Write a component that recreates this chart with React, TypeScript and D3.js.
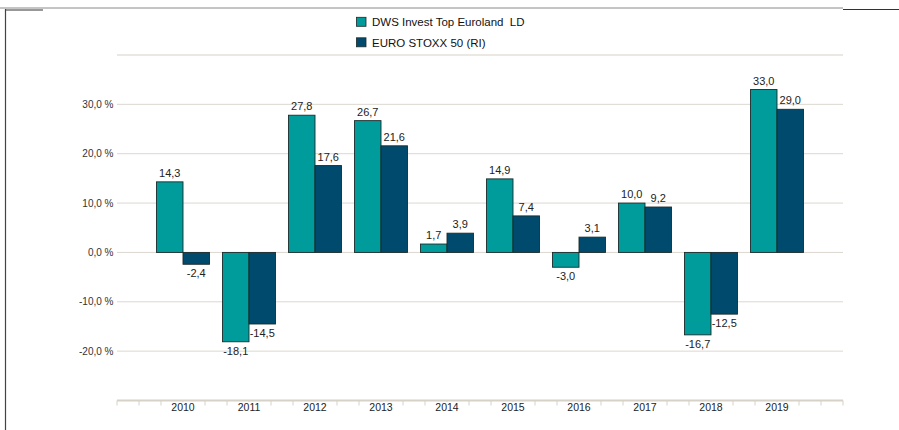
import React from "react";
import * as d3 from "d3";

const categories = ["2010", "2011", "2012", "2013", "2014", "2015", "2016", "2017", "2018", "2019"];
const fundValues = [14.3, -18.1, 27.8, 26.7, 1.7, 14.9, -3.0, 10.0, -16.7, 33.0];
const indexValues = [-2.4, -14.5, 17.6, 21.6, 3.9, 7.4, 3.1, 9.2, -12.5, 29.0];
const seriesNames = ["DWS Invest Top Euroland  LD", "EURO STOXX 50 (RI)"];
const seriesColors = ["#009b9b", "#004a6e"];
const yTickValues = [-20, -10, 0, 10, 20, 30];

const W = 899;
const H = 430;
const left = 117;
const right = 843;
const top = 55;
const bottom = 400.5;
const font = "'Liberation Sans', Arial, sans-serif";

const fmt = (v: number) => d3.format(".1f")(v).replace(".", ",").replace("−", "-");

export default function App() {
  const y = d3.scaleLinear().domain([-30, 40]).range([bottom, top]);
  const x = d3.scaleLinear().domain([0, 11]).range([left, right]);
  const barW = 26.5;
  const minorTicks = d3.range(0, 34).map((i) => left + (i * (right - left)) / 33);
  const series = [fundValues, indexValues];

  return (
    <svg width={W} height={H} style={{ position: "absolute", left: 0, top: 0 }}>
      <rect x={0} y={0} width={W} height={H} fill="#fff" />
      <line x1={0} x2={843} y1={8} y2={8} stroke="#8a8a8a" strokeWidth={1} />
      <line x1={5} x2={43} y1={10} y2={10} stroke="#333" strokeWidth={1} />
      <line x1={843} x2={899} y1={9.5} y2={9.5} stroke="#333" strokeWidth={1} />
      <line x1={5.5} x2={5.5} y1={9} y2={H} stroke="#444" strokeWidth={1.2} />

      {seriesNames.map((n, i) => (
        <g key={n} transform={`translate(356, ${16.8 + i * 20.5})`}>
          <rect x={0.5} y={0.5} width={9.5} height={9} fill={seriesColors[i]} stroke="#1a2a2a" strokeWidth={0.8} />
          <text x={16} y={9.5} fontSize={11.5} fontFamily={font} fill="#111" style={{ whiteSpace: "pre" }}>
            {n}
          </text>
        </g>
      ))}

      <line x1={left} x2={right} y1={y(40)} y2={y(40)} stroke="#e4e1da" strokeWidth={1.5} />
      {yTickValues.map((t) => (
        <g key={t}>
          <line x1={left} x2={right} y1={y(t)} y2={y(t)} stroke="#dcd8d0" strokeWidth={1} />
          <text x={113.5} y={y(t) + 3.5} textAnchor="end" fontSize={10} fontFamily={font} fill="#333">
            {fmt(t) + " %"}
          </text>
        </g>
      ))}

      {categories.map((c, i) => {
        const cx = x(i + 1);
        return (
          <g key={c}>
            {series.map((vals, s) => {
              const v = vals[i];
              const bx = cx - barW + s * barW;
              const y0 = y(Math.max(0, v));
              const y1 = y(Math.min(0, v));
              return (
                <g key={s}>
                  <rect x={bx} y={y0} width={barW} height={y1 - y0} fill={seriesColors[s]} stroke="#1c2b2b" strokeWidth={0.9} />
                  <text
                    x={bx + barW / 2}
                    y={v >= 0 ? y0 - 5 : y1 + 13}
                    textAnchor="middle"
                    fontSize={11}
                    fontFamily={font}
                    fill="#222"
                  >
                    {fmt(v)}
                  </text>
                </g>
              );
            })}
          </g>
        );
      })}

      <line x1={left} x2={right} y1={bottom} y2={bottom} stroke="#d6d2c8" strokeWidth={2} />
      {minorTicks.map((t, i) => (
        <line key={i} x1={t} x2={t} y1={bottom} y2={bottom + 5} stroke="#d6d2c8" strokeWidth={1} />
      ))}
      {categories.map((c, i) => (
        <g key={c}>
          <rect x={x(i + 1) - 14} y={bottom + 1.5} width={28} height={6} fill="#fff" />
          <text x={x(i + 1)} y={bottom + 10} textAnchor="middle" fontSize={10.5} fontFamily={font} fill="#222">
            {c}
          </text>
        </g>
      ))}
    </svg>
  );
}
